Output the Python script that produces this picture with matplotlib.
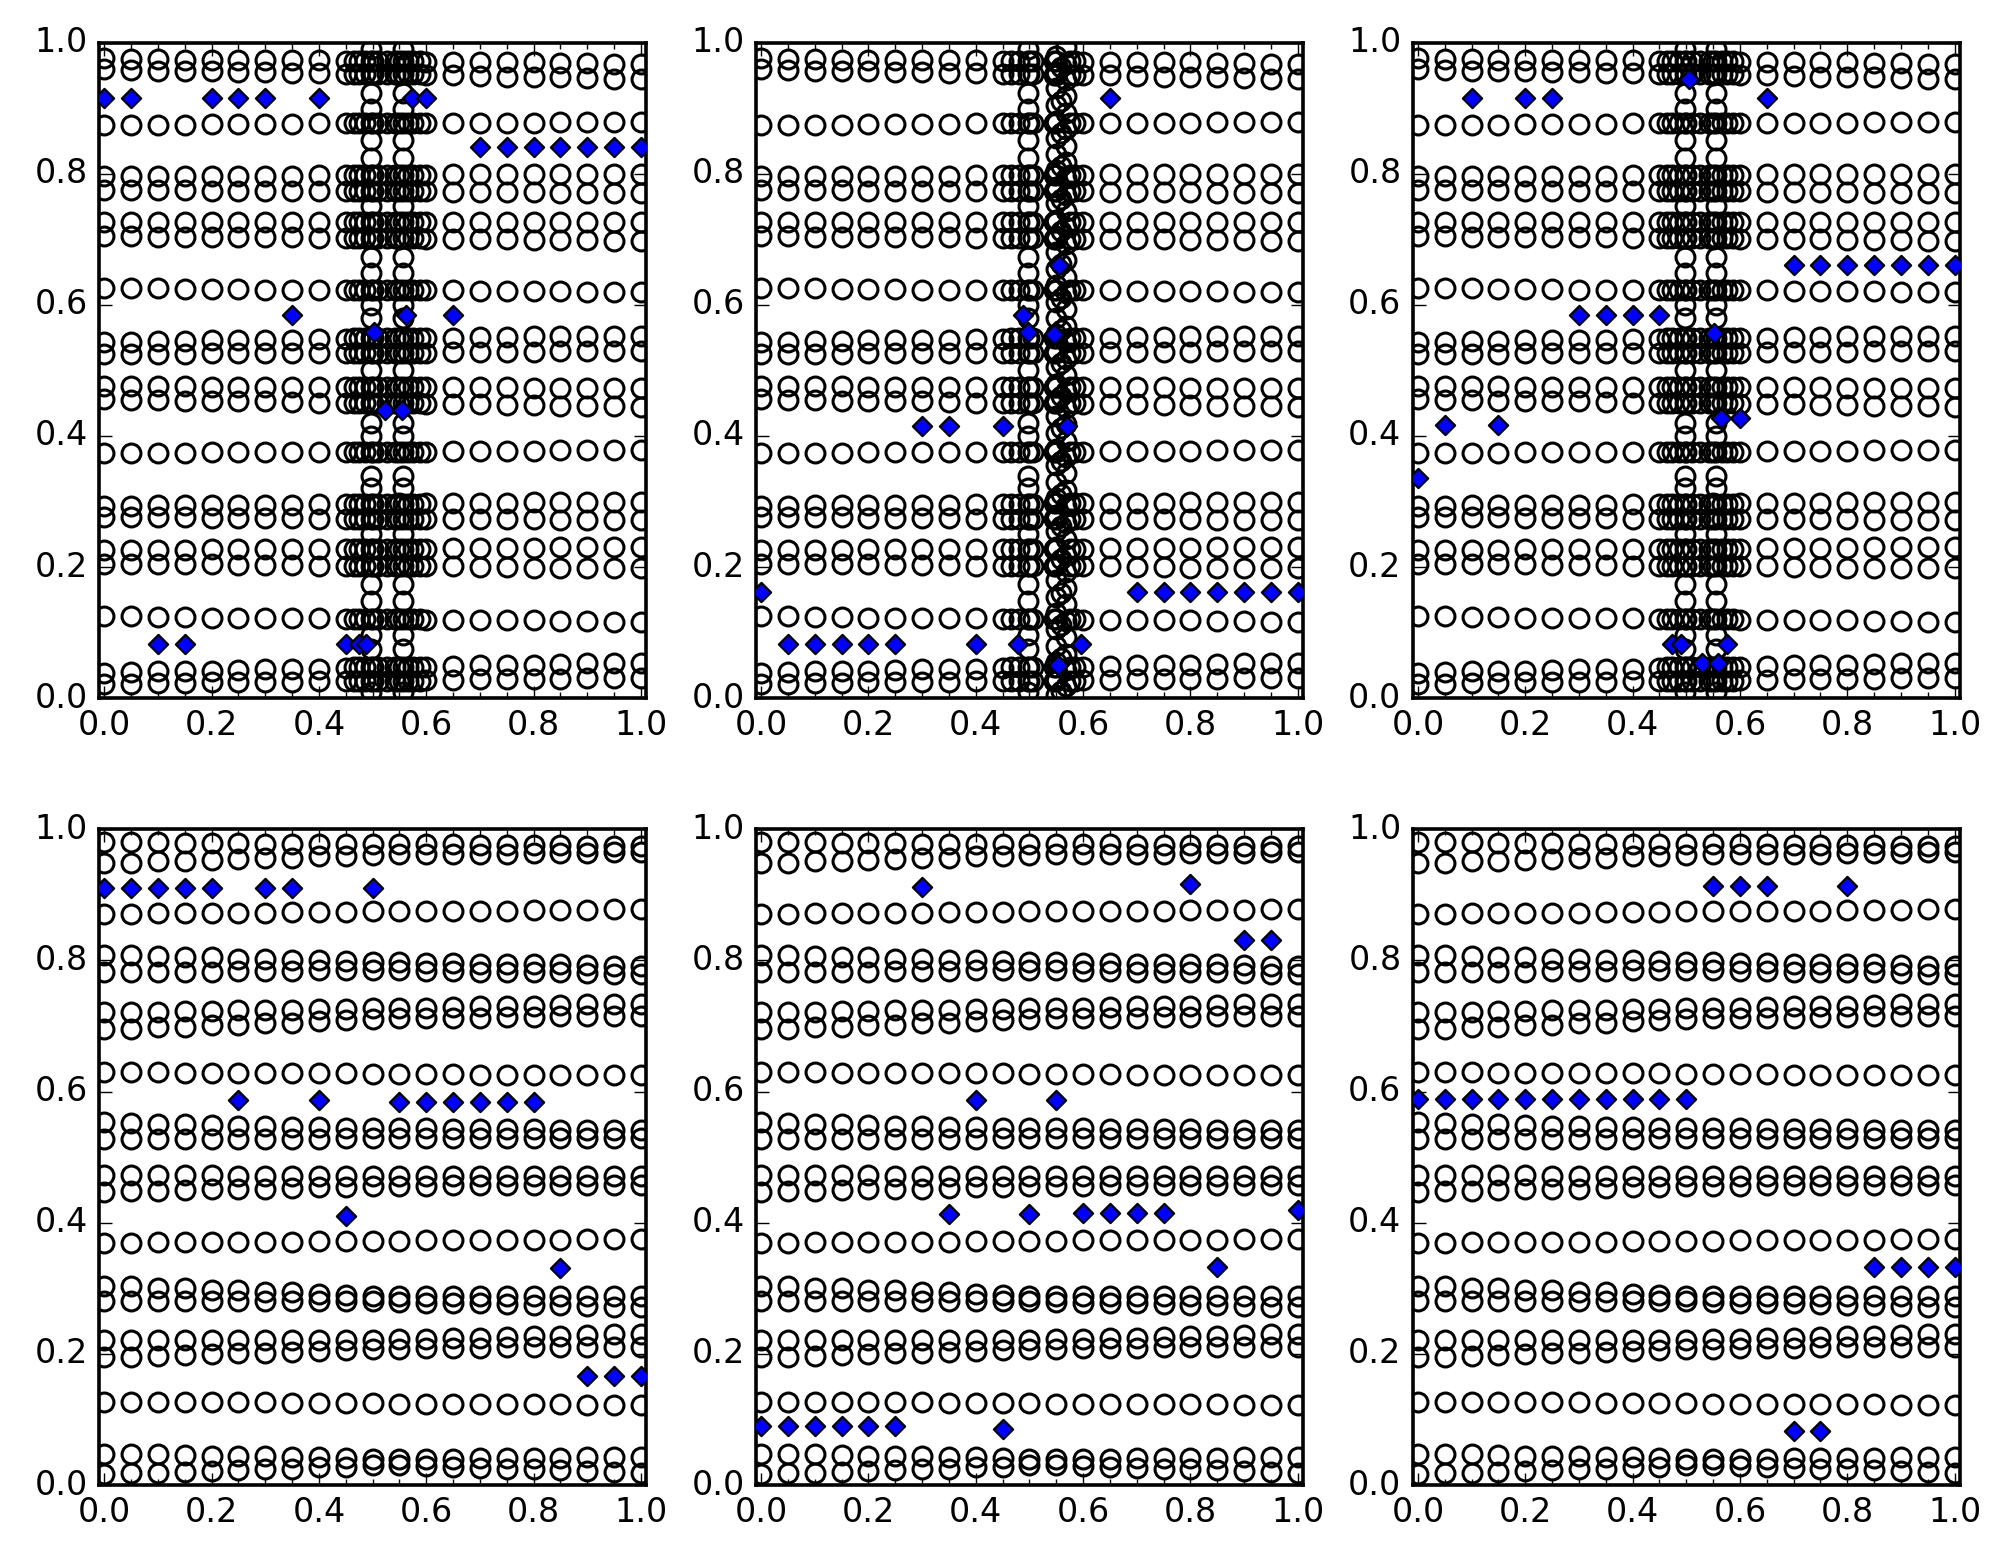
import numpy as np
import matplotlib.pyplot as plt

plt.style.use('classic')
plt.rcParams['font.size'] = 12

# x positions of the regular grid of samples
x_grid = [0.0, 0.05, 0.1, 0.15, 0.2, 0.25, 0.3, 0.35, 0.4, 0.45, 0.5,
          0.55, 0.6, 0.65, 0.7, 0.75, 0.8, 0.85, 0.9, 0.95, 1.0]

# y of every grid row, one value per x_grid entry (upper panels)
top_rows = [
    [0.976, 0.975, 0.975, 0.974, 0.974, 0.974, 0.973, 0.973, 0.973, 0.972, 0.972, 0.972, 0.971, 0.971, 0.971, 0.970, 0.970, 0.969, 0.969, 0.968, 0.968],
    [0.959, 0.958, 0.957, 0.957, 0.956, 0.955, 0.955, 0.954, 0.953, 0.952, 0.952, 0.951, 0.950, 0.950, 0.949, 0.948, 0.948, 0.947, 0.946, 0.945, 0.945],
    [0.875, 0.875, 0.875, 0.875, 0.876, 0.876, 0.876, 0.876, 0.877, 0.877, 0.877, 0.877, 0.877, 0.878, 0.878, 0.878, 0.878, 0.879, 0.879, 0.879, 0.879],
    [0.796, 0.796, 0.796, 0.796, 0.797, 0.797, 0.797, 0.797, 0.798, 0.798, 0.798, 0.798, 0.798, 0.799, 0.799, 0.799, 0.799, 0.800, 0.800, 0.800, 0.800],
    [0.775, 0.775, 0.775, 0.775, 0.774, 0.774, 0.774, 0.774, 0.773, 0.773, 0.773, 0.773, 0.773, 0.772, 0.772, 0.772, 0.772, 0.771, 0.771, 0.771, 0.771],
    [0.726, 0.726, 0.726, 0.726, 0.726, 0.726, 0.726, 0.726, 0.726, 0.726, 0.726, 0.726, 0.726, 0.726, 0.726, 0.726, 0.726, 0.726, 0.726, 0.726, 0.726],
    [0.705, 0.705, 0.704, 0.704, 0.704, 0.703, 0.703, 0.703, 0.702, 0.702, 0.702, 0.701, 0.701, 0.701, 0.700, 0.700, 0.699, 0.699, 0.699, 0.698, 0.698],
    [0.625, 0.625, 0.625, 0.624, 0.624, 0.624, 0.623, 0.623, 0.623, 0.623, 0.622, 0.622, 0.622, 0.622, 0.621, 0.621, 0.621, 0.621, 0.620, 0.620, 0.620],
    [0.544, 0.544, 0.545, 0.545, 0.546, 0.546, 0.547, 0.547, 0.548, 0.548, 0.549, 0.549, 0.550, 0.550, 0.551, 0.551, 0.552, 0.552, 0.553, 0.553, 0.553],
    [0.525, 0.525, 0.525, 0.525, 0.526, 0.526, 0.526, 0.526, 0.527, 0.527, 0.527, 0.527, 0.527, 0.528, 0.528, 0.528, 0.528, 0.529, 0.529, 0.529, 0.529],
    [0.476, 0.476, 0.476, 0.476, 0.475, 0.475, 0.475, 0.475, 0.475, 0.475, 0.474, 0.474, 0.474, 0.474, 0.474, 0.474, 0.473, 0.473, 0.473, 0.473, 0.473],
    [0.456, 0.455, 0.455, 0.454, 0.454, 0.453, 0.453, 0.452, 0.451, 0.451, 0.450, 0.450, 0.449, 0.448, 0.448, 0.447, 0.447, 0.446, 0.445, 0.445, 0.444],
    [0.374, 0.374, 0.374, 0.374, 0.375, 0.375, 0.375, 0.375, 0.376, 0.376, 0.376, 0.376, 0.376, 0.377, 0.377, 0.377, 0.377, 0.378, 0.378, 0.378, 0.378],
    [0.293, 0.293, 0.294, 0.294, 0.294, 0.295, 0.295, 0.295, 0.296, 0.296, 0.296, 0.297, 0.297, 0.297, 0.298, 0.298, 0.299, 0.299, 0.299, 0.300, 0.300],
    [0.276, 0.276, 0.276, 0.276, 0.275, 0.275, 0.275, 0.275, 0.274, 0.274, 0.274, 0.274, 0.274, 0.273, 0.273, 0.273, 0.273, 0.272, 0.272, 0.272, 0.272],
    [0.226, 0.226, 0.226, 0.226, 0.227, 0.227, 0.227, 0.227, 0.228, 0.228, 0.228, 0.228, 0.228, 0.229, 0.229, 0.229, 0.229, 0.230, 0.230, 0.230, 0.230],
    [0.205, 0.205, 0.204, 0.204, 0.204, 0.203, 0.203, 0.203, 0.202, 0.202, 0.202, 0.201, 0.201, 0.201, 0.200, 0.200, 0.199, 0.199, 0.199, 0.198, 0.198],
    [0.125, 0.125, 0.124, 0.124, 0.123, 0.123, 0.123, 0.122, 0.122, 0.121, 0.121, 0.121, 0.120, 0.120, 0.120, 0.119, 0.119, 0.118, 0.118, 0.117, 0.117],
    [0.039, 0.040, 0.041, 0.041, 0.042, 0.043, 0.044, 0.044, 0.045, 0.046, 0.047, 0.047, 0.048, 0.049, 0.050, 0.050, 0.051, 0.052, 0.053, 0.053, 0.054],
    [0.022, 0.022, 0.023, 0.023, 0.024, 0.024, 0.025, 0.025, 0.026, 0.026, 0.027, 0.027, 0.028, 0.028, 0.029, 0.029, 0.030, 0.030, 0.031, 0.031, 0.031],
]

# same rows for the lower panels
bottom_rows = [
    [0.980, 0.980, 0.980, 0.979, 0.979, 0.979, 0.978, 0.978, 0.978, 0.978, 0.977, 0.977, 0.977, 0.977, 0.976, 0.976, 0.976, 0.976, 0.975, 0.975, 0.975],
    [0.948, 0.949, 0.951, 0.952, 0.953, 0.955, 0.956, 0.957, 0.959, 0.960, 0.961, 0.962, 0.962, 0.963, 0.963, 0.963, 0.964, 0.964, 0.964, 0.965, 0.965],
    [0.871, 0.871, 0.872, 0.872, 0.872, 0.873, 0.873, 0.874, 0.874, 0.874, 0.875, 0.875, 0.875, 0.876, 0.876, 0.876, 0.877, 0.877, 0.877, 0.878, 0.878],
    [0.809, 0.808, 0.807, 0.806, 0.805, 0.803, 0.802, 0.801, 0.800, 0.799, 0.797, 0.797, 0.796, 0.796, 0.795, 0.795, 0.794, 0.794, 0.793, 0.792, 0.792],
    [0.782, 0.782, 0.783, 0.783, 0.783, 0.784, 0.784, 0.784, 0.785, 0.785, 0.785, 0.785, 0.784, 0.784, 0.783, 0.783, 0.782, 0.782, 0.781, 0.780, 0.780],
    [0.721, 0.722, 0.722, 0.723, 0.723, 0.724, 0.725, 0.725, 0.726, 0.726, 0.727, 0.728, 0.728, 0.729, 0.730, 0.731, 0.731, 0.732, 0.733, 0.734, 0.734],
    [0.695, 0.696, 0.698, 0.699, 0.701, 0.702, 0.704, 0.705, 0.707, 0.709, 0.711, 0.712, 0.712, 0.713, 0.713, 0.714, 0.714, 0.715, 0.715, 0.716, 0.716],
    [0.630, 0.630, 0.630, 0.629, 0.629, 0.629, 0.628, 0.628, 0.628, 0.628, 0.627, 0.627, 0.627, 0.627, 0.626, 0.626, 0.626, 0.626, 0.625, 0.625, 0.625],
    [0.553, 0.552, 0.551, 0.550, 0.549, 0.548, 0.547, 0.546, 0.546, 0.545, 0.544, 0.544, 0.544, 0.543, 0.543, 0.543, 0.543, 0.542, 0.542, 0.542, 0.542],
    [0.527, 0.527, 0.527, 0.527, 0.528, 0.528, 0.528, 0.528, 0.528, 0.529, 0.529, 0.529, 0.529, 0.529, 0.529, 0.529, 0.529, 0.529, 0.529, 0.529, 0.529],
    [0.473, 0.473, 0.473, 0.473, 0.473, 0.472, 0.472, 0.472, 0.472, 0.472, 0.471, 0.471, 0.471, 0.471, 0.471, 0.471, 0.471, 0.471, 0.471, 0.471, 0.471],
    [0.447, 0.448, 0.449, 0.450, 0.451, 0.452, 0.452, 0.453, 0.454, 0.455, 0.456, 0.456, 0.456, 0.457, 0.457, 0.457, 0.457, 0.458, 0.458, 0.458, 0.458],
    [0.369, 0.369, 0.370, 0.370, 0.370, 0.371, 0.371, 0.371, 0.372, 0.372, 0.372, 0.372, 0.373, 0.373, 0.373, 0.374, 0.374, 0.374, 0.375, 0.375, 0.375],
    [0.304, 0.303, 0.301, 0.300, 0.298, 0.297, 0.295, 0.294, 0.292, 0.290, 0.288, 0.288, 0.288, 0.288, 0.288, 0.288, 0.288, 0.288, 0.288, 0.288, 0.288],
    [0.280, 0.280, 0.280, 0.280, 0.280, 0.280, 0.280, 0.280, 0.280, 0.280, 0.280, 0.279, 0.278, 0.278, 0.277, 0.276, 0.275, 0.274, 0.273, 0.272, 0.272],
    [0.221, 0.221, 0.221, 0.221, 0.221, 0.221, 0.221, 0.221, 0.221, 0.221, 0.221, 0.222, 0.223, 0.224, 0.225, 0.226, 0.227, 0.228, 0.229, 0.230, 0.231],
    [0.195, 0.196, 0.197, 0.198, 0.200, 0.201, 0.202, 0.203, 0.205, 0.206, 0.208, 0.208, 0.209, 0.209, 0.209, 0.210, 0.210, 0.210, 0.211, 0.211, 0.211],
    [0.127, 0.127, 0.127, 0.126, 0.126, 0.126, 0.126, 0.125, 0.125, 0.125, 0.125, 0.124, 0.124, 0.124, 0.124, 0.123, 0.123, 0.123, 0.122, 0.122, 0.122],
    [0.048, 0.047, 0.047, 0.046, 0.045, 0.044, 0.044, 0.043, 0.042, 0.041, 0.040, 0.040, 0.040, 0.040, 0.041, 0.041, 0.041, 0.041, 0.042, 0.042, 0.042],
    [0.017, 0.018, 0.019, 0.020, 0.022, 0.023, 0.024, 0.025, 0.027, 0.028, 0.030, 0.030, 0.029, 0.028, 0.026, 0.025, 0.024, 0.023, 0.021, 0.020, 0.019],
]

# extra samples crowded around x~0.5 (panels 1 and 3)
band_row_x = [0.465, 0.474, 0.486, 0.497, 0.51, 0.526, 0.542, 0.556, 0.566, 0.576, 0.588]
band_mid_x = [0.497, 0.556]
band_mid_y = [0.99, 0.923, 0.898, 0.852, 0.824, 0.75, 0.673, 0.648, 0.60, 0.58,
              0.50, 0.42, 0.40, 0.339, 0.321, 0.251, 0.174, 0.149, 0.096, 0.075, 0.01]

# panel 2 has two separate chains instead
p2_left_row_x = [0.465, 0.48, 0.497, 0.506]
p2_right_row_x = [0.545, 0.575, 0.585]
p2_chain_a_x = 0.550
p2_chain_a_y = [0.005, 0.03, 0.055, 0.08, 0.105, 0.13, 0.155, 0.18, 0.205, 0.23, 0.255, 0.28, 0.305, 0.33,
                0.355, 0.38, 0.405, 0.43, 0.455, 0.48, 0.505, 0.53, 0.555, 0.58, 0.605, 0.63, 0.655, 0.68,
                0.705, 0.73, 0.755, 0.78, 0.805, 0.83, 0.855, 0.88, 0.905, 0.93, 0.955, 0.98]
p2_chain_b_x = 0.568
p2_chain_b_y = [0.018, 0.043, 0.068, 0.093, 0.118, 0.143, 0.168, 0.193, 0.218, 0.243, 0.268, 0.293, 0.318,
                0.343, 0.368, 0.393, 0.418, 0.443, 0.468, 0.493, 0.518, 0.543, 0.568, 0.593, 0.618, 0.643,
                0.668, 0.693, 0.718, 0.743, 0.768, 0.793, 0.818, 0.843, 0.868, 0.893, 0.918, 0.943, 0.968, 0.993]
p2_chain_c_x = 0.559
p2_chain_c_y = [0.011, 0.062, 0.112, 0.161, 0.212, 0.262, 0.311, 0.362, 0.412, 0.461, 0.512,
                0.562, 0.611, 0.662, 0.712, 0.761, 0.812, 0.862, 0.911, 0.962]

# highlighted samples (blue diamonds), one pair of lists per panel
p1_dx = [0.0, 0.05, 0.2, 0.25, 0.3, 0.4, 0.574, 0.6,
         0.7, 0.75, 0.8, 0.85, 0.9, 0.95, 1.0,
         0.35, 0.562, 0.65, 0.502, 0.524, 0.555,
         0.1, 0.15, 0.45, 0.474, 0.488]
p1_dy = [0.916, 0.916, 0.916, 0.916, 0.916, 0.916, 0.916, 0.916,
         0.840, 0.840, 0.840, 0.840, 0.840, 0.840, 0.840,
         0.584, 0.584, 0.584, 0.558, 0.440, 0.440,
         0.082, 0.082, 0.082, 0.082, 0.082]

p2_dx = [0.65, 0.556, 0.488, 0.497, 0.546,
         0.3, 0.35, 0.45, 0.57,
         0.0, 0.7, 0.75, 0.8, 0.85, 0.9, 0.95, 1.0,
         0.05, 0.1, 0.15, 0.2, 0.25, 0.4, 0.479, 0.597, 0.553]
p2_dy = [0.915, 0.661, 0.584, 0.558, 0.556,
         0.415, 0.415, 0.415, 0.415,
         0.162, 0.162, 0.162, 0.162, 0.162, 0.162, 0.162, 0.162,
         0.082, 0.082, 0.082, 0.082, 0.082, 0.082, 0.082, 0.082, 0.051]

p3_dx = [0.1, 0.2, 0.25, 0.65, 0.506,
         0.7, 0.75, 0.8, 0.85, 0.9, 0.95, 1.0,
         0.3, 0.35, 0.4, 0.45, 0.552,
         0.05, 0.15, 0.564, 0.6, 0.0,
         0.474, 0.491, 0.576, 0.529, 0.559]
p3_dy = [0.915, 0.915, 0.915, 0.915, 0.945,
         0.660, 0.660, 0.660, 0.660, 0.660, 0.660, 0.660,
         0.584, 0.584, 0.584, 0.584, 0.557,
         0.416, 0.416, 0.428, 0.428, 0.336,
         0.082, 0.082, 0.082, 0.053, 0.053]

p4_dx = [0.0, 0.05, 0.1, 0.15, 0.2, 0.3, 0.35, 0.5,
         0.25, 0.4, 0.55, 0.6, 0.65, 0.7, 0.75, 0.8,
         0.45, 0.85, 0.9, 0.95, 1.0]
p4_dy = [0.910, 0.910, 0.910, 0.910, 0.910, 0.910, 0.910, 0.910,
         0.587, 0.587, 0.584, 0.584, 0.584, 0.584, 0.584, 0.584,
         0.411, 0.331, 0.166, 0.166, 0.166]

p5_dx = [0.3, 0.8, 0.9, 0.95, 0.4, 0.55,
         0.35, 0.5, 0.6, 0.65, 0.7, 0.75, 1.0, 0.85,
         0.0, 0.05, 0.1, 0.15, 0.2, 0.25, 0.45]
p5_dy = [0.912, 0.916, 0.832, 0.832, 0.587, 0.587,
         0.413, 0.413, 0.415, 0.415, 0.415, 0.415, 0.420, 0.333,
         0.090, 0.090, 0.090, 0.090, 0.090, 0.090, 0.085]

p6_dx = [0.55, 0.6, 0.65, 0.8,
         0.0, 0.05, 0.1, 0.15, 0.2, 0.25, 0.3, 0.35, 0.4, 0.45, 0.5,
         0.85, 0.9, 0.95, 1.0, 0.7, 0.75]
p6_dy = [0.913, 0.913, 0.913, 0.913,
         0.589, 0.589, 0.589, 0.589, 0.589, 0.589, 0.589, 0.589, 0.589, 0.589, 0.589,
         0.333, 0.333, 0.333, 0.333, 0.083, 0.083]

diamonds = [(p1_dx, p1_dy), (p2_dx, p2_dy), (p3_dx, p3_dy),
            (p4_dx, p4_dy), (p5_dx, p5_dy), (p6_dx, p6_dy)]

circ = dict(linestyle='none', marker='o', markersize=6.8, markerfacecolor='none',
            markeredgecolor='k', markeredgewidth=1.1)

fig, axes = plt.subplots(2, 3, figsize=(2011 / 200, 1565 / 200))
fig.subplots_adjust(left=0.0492, right=0.9746, top=0.9728, bottom=0.0511,
                    wspace=0.2, hspace=0.2)

for k, ax in enumerate(axes.flat):
    rows = top_rows if k < 3 else bottom_rows
    for row in rows:
        ax.plot(x_grid, row, **circ)

    if k in (0, 2):
        for row in rows:
            ax.plot(band_row_x, [row[10]] * len(band_row_x), **circ)
        for bx in band_mid_x:
            ax.plot([bx] * len(band_mid_y), band_mid_y, **circ)
    elif k == 1:
        for row in rows:
            ax.plot(p2_left_row_x, [row[10]] * len(p2_left_row_x), **circ)
            ax.plot(p2_right_row_x, [row[11]] * len(p2_right_row_x), **circ)
        ax.plot([0.497] * len(band_mid_y), band_mid_y, **circ)
        ax.plot([p2_chain_a_x] * len(p2_chain_a_y), p2_chain_a_y, **circ)
        ax.plot([p2_chain_b_x] * len(p2_chain_b_y), p2_chain_b_y, **circ)
        ax.plot([p2_chain_c_x] * len(p2_chain_c_y), p2_chain_c_y, **circ)

    dx, dy = diamonds[k]
    ax.scatter(dx, dy, s=24, marker='D', c='b', edgecolors='k', linewidths=0.8, zorder=3)

    ax.set_xlim(-0.01, 1.01)
    ax.set_ylim(0, 1)
    ax.set_xticks([0.0, 0.2, 0.4, 0.6, 0.8, 1.0])
    ax.set_xticks(x_grid, minor=True)
    ax.set_yticks([0.0, 0.2, 0.4, 0.6, 0.8, 1.0])
    ax.tick_params(which='major', length=4.5)
    ax.tick_params(which='minor', length=2)
    for sp in ax.spines.values():
        sp.set_linewidth(1.3)

fig.savefig('out.png', dpi=200)
